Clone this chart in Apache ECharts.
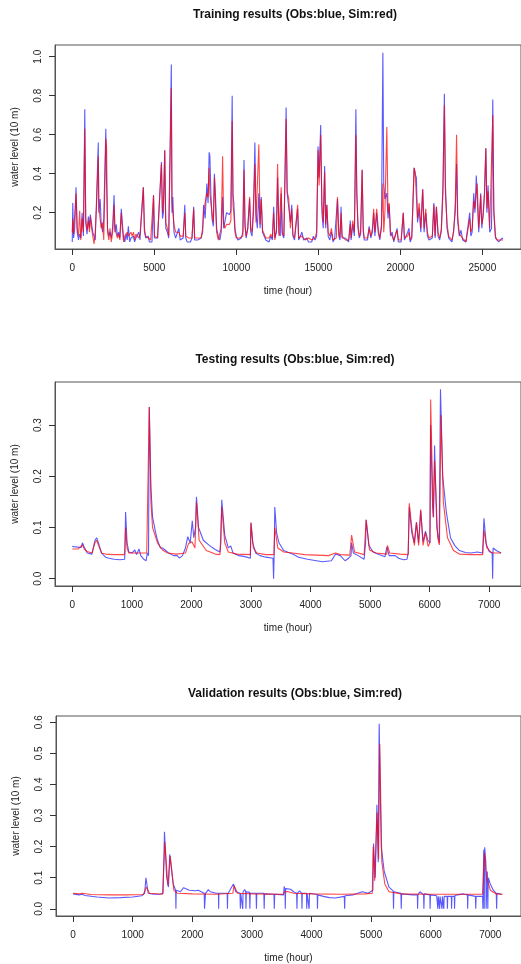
<!DOCTYPE html>
<html>
<head>
<meta charset="utf-8">
<script src="https://cdn.jsdelivr.net/npm/echarts@6/dist/echarts.min.js"></script>
<style>
  html, body { margin: 0; padding: 0; background: #fff; }
  #chart { width: 521px; height: 964px; }
</style>
</head>
<body>
<div id="chart"></div>
<script>
// ---- data: [hour, water level] ----
var trainObs = [[0,0.05],[30,0.25],[80,0.07],[150,0.12],[230,0.33],[300,0.1],[380,0.06],[450,0.09],[520,0.07],[600,0.2],[680,0.08],[762,0.73],[820,0.15],[900,0.09],[980,0.18],[1050,0.12],[1100,0.19],[1180,0.14],[1250,0.1],[1330,0.08],[1400,0.06],[1480,0.27],[1585,0.56],[1620,0.2],[1700,0.27],[1760,0.15],[1850,0.1],[1920,0.17],[2046,0.63],[2090,0.36],[2150,0.12],[2230,0.08],[2300,0.1],[2380,0.07],[2460,0.12],[2548,0.29],[2600,0.1],[2680,0.14],[2750,0.08],[2830,0.1],[2900,0.07],[2990,0.22],[3050,0.15],[3130,0.07],[3200,0.05],[3290,0.09],[3350,0.06],[3420,0.13],[3500,0.05],[3580,0.07],[3650,0.06],[3730,0.08],[3800,0.05],[3880,0.07],[3960,0.06],[4050,0.1],[4130,0.06],[4253,0.24],[4333,0.33],[4400,0.1],[4480,0.07],[4550,0.06],[4630,0.08],[4700,0.05],[4780,0.06],[4860,0.05],[4955,0.29],[5010,0.07],[5100,0.06],[5200,0.07],[5300,0.06],[5436,0.46],[5500,0.17],[5560,0.2],[5637,0.52],[5700,0.12],[5800,0.1],[5880,0.07],[5960,0.06],[6038,0.96],[6080,0.2],[6130,0.28],[6200,0.1],[6300,0.07],[6400,0.06],[6500,0.12],[6580,0.06],[6680,0.05],[6760,0.07],[6860,0.24],[6920,0.07],[7000,0.05],[7100,0.06],[7200,0.05],[7300,0.07],[7402,0.23],[7460,0.06],[7550,0.05],[7650,0.06],[7750,0.05],[7850,0.07],[7950,0.1],[8004,0.24],[8100,0.17],[8205,0.35],[8280,0.25],[8345,0.51],[8390,0.49],[8450,0.3],[8520,0.17],[8600,0.13],[8666,0.4],[8730,0.29],[8800,0.12],[8900,0.08],[9000,0.06],[9080,0.1],[9167,0.28],[9230,0.12],[9300,0.13],[9408,0.2],[9500,0.2],[9580,0.19],[9669,0.21],[9749,0.8],[9800,0.29],[9850,0.25],[9920,0.12],[10000,0.08],[10100,0.06],[10200,0.05],[10300,0.07],[10400,0.1],[10471,0.47],[10530,0.15],[10600,0.07],[10700,0.12],[10812,0.27],[10880,0.1],[10960,0.08],[11050,0.2],[11133,0.56],[11200,0.2],[11280,0.12],[11374,0.3],[11450,0.12],[11520,0.28],[11600,0.1],[11700,0.09],[11800,0.06],[11900,0.07],[12000,0.05],[12100,0.08],[12200,0.06],[12277,0.23],[12350,0.07],[12450,0.1],[12518,0.38],[12600,0.1],[12680,0.08],[12738,0.3],[12800,0.09],[12900,0.07],[13039,0.74],[13100,0.3],[13200,0.29],[13300,0.15],[13380,0.24],[13450,0.08],[13550,0.06],[13650,0.07],[13741,0.22],[13800,0.06],[13900,0.05],[14000,0.1],[14100,0.06],[14200,0.05],[14300,0.07],[14400,0.05],[14500,0.06],[14600,0.05],[14700,0.08],[14800,0.06],[14900,0.08],[14985,0.54],[15050,0.38],[15145,0.65],[15220,0.2],[15300,0.12],[15386,0.44],[15450,0.12],[15520,0.24],[15600,0.08],[15700,0.06],[15800,0.1],[15900,0.05],[16000,0.07],[16100,0.06],[16168,0.27],[16250,0.08],[16320,0.06],[16389,0.23],[16450,0.07],[16550,0.06],[16650,0.07],[16750,0.06],[16850,0.05],[16950,0.16],[17000,0.06],[17100,0.14],[17200,0.08],[17291,0.73],[17350,0.29],[17420,0.12],[17500,0.07],[17580,0.09],[17672,0.42],[17740,0.1],[17800,0.06],[17900,0.05],[18000,0.06],[18100,0.13],[18200,0.07],[18300,0.1],[18375,0.2],[18450,0.08],[18560,0.2],[18650,0.1],[18750,0.06],[18850,0.14],[18937,1.02],[18990,0.35],[19060,0.27],[19177,0.3],[19250,0.17],[19320,0.24],[19400,0.08],[19500,0.1],[19600,0.05],[19700,0.06],[19800,0.12],[19880,0.05],[19950,0.06],[20050,0.05],[20180,0.2],[20250,0.06],[20350,0.05],[20450,0.1],[20530,0.12],[20600,0.05],[20700,0.07],[20842,0.43],[20900,0.4],[20980,0.38],[21050,0.15],[21150,0.22],[21250,0.1],[21364,0.32],[21450,0.1],[21550,0.2],[21650,0.08],[21750,0.06],[21850,0.05],[21950,0.07],[22046,0.25],[22120,0.07],[22200,0.23],[22300,0.08],[22400,0.06],[22500,0.12],[22600,0.34],[22687,0.81],[22750,0.34],[22850,0.12],[22950,0.07],[23050,0.06],[23150,0.05],[23250,0.11],[23350,0.2],[23430,0.45],[23500,0.15],[23600,0.08],[23700,0.11],[23800,0.06],[23900,0.05],[24000,0.05],[24100,0.04],[24232,0.2],[24300,0.08],[24380,0.1],[24473,0.3],[24550,0.2],[24633,0.39],[24690,0.39],[24780,0.1],[24850,0.2],[24900,0.3],[24970,0.12],[25050,0.2],[25130,0.3],[25214,0.53],[25280,0.2],[25350,0.34],[25450,0.1],[25560,0.12],[25637,0.78],[25700,0.2],[25800,0.07],[25900,0.06],[26000,0.05],[26100,0.06],[26200,0.07],[26260,0.065]];

var trainSim = [[0,0.1],[30,0.17],[80,0.09],[150,0.1],[230,0.3],[300,0.12],[380,0.08],[450,0.21],[520,0.06],[600,0.17],[680,0.1],[762,0.63],[820,0.17],[900,0.11],[980,0.16],[1050,0.1],[1100,0.18],[1180,0.12],[1250,0.08],[1330,0.04],[1400,0.1],[1480,0.24],[1585,0.49],[1620,0.23],[1700,0.24],[1760,0.12],[1850,0.15],[1920,0.06],[2046,0.58],[2090,0.54],[2150,0.1],[2230,0.06],[2300,0.12],[2380,0.05],[2460,0.1],[2548,0.24],[2600,0.12],[2680,0.12],[2750,0.07],[2830,0.09],[2900,0.06],[2990,0.2],[3050,0.12],[3130,0.05],[3200,0.08],[3290,0.07],[3350,0.1],[3420,0.08],[3500,0.07],[3580,0.1],[3650,0.08],[3730,0.1],[3800,0.06],[3880,0.09],[3960,0.08],[4050,0.07],[4130,0.09],[4253,0.22],[4333,0.33],[4400,0.12],[4480,0.08],[4550,0.07],[4630,0.07],[4700,0.07],[4780,0.06],[4860,0.07],[4955,0.29],[5010,0.08],[5100,0.07],[5200,0.07],[5300,0.07],[5436,0.45],[5500,0.2],[5560,0.26],[5637,0.52],[5700,0.15],[5800,0.12],[5880,0.08],[5960,0.07],[6038,0.84],[6080,0.25],[6130,0.26],[6200,0.14],[6300,0.1],[6400,0.09],[6500,0.1],[6580,0.08],[6680,0.07],[6760,0.08],[6860,0.2],[6920,0.08],[7000,0.07],[7100,0.07],[7200,0.07],[7300,0.07],[7402,0.22],[7460,0.07],[7550,0.07],[7650,0.07],[7750,0.07],[7850,0.07],[7950,0.12],[8004,0.2],[8100,0.25],[8205,0.3],[8280,0.28],[8345,0.43],[8390,0.3],[8450,0.25],[8520,0.2],[8600,0.15],[8666,0.38],[8730,0.25],[8800,0.1],[8900,0.06],[9000,0.05],[9080,0.12],[9167,0.49],[9230,0.15],[9300,0.12],[9408,0.14],[9500,0.15],[9580,0.14],[9669,0.16],[9749,0.67],[9800,0.24],[9850,0.2],[9920,0.1],[10000,0.07],[10100,0.06],[10200,0.07],[10300,0.06],[10400,0.08],[10471,0.42],[10530,0.13],[10600,0.08],[10700,0.12],[10812,0.28],[10880,0.12],[10960,0.1],[11050,0.25],[11133,0.45],[11200,0.15],[11280,0.14],[11374,0.55],[11450,0.14],[11520,0.27],[11600,0.11],[11700,0.12],[11800,0.07],[11900,0.08],[12000,0.07],[12100,0.09],[12200,0.07],[12277,0.2],[12350,0.06],[12450,0.12],[12518,0.45],[12600,0.08],[12680,0.09],[12738,0.33],[12800,0.1],[12900,0.08],[13039,0.68],[13100,0.31],[13200,0.27],[13300,0.12],[13380,0.22],[13450,0.09],[13550,0.07],[13650,0.06],[13741,0.24],[13800,0.07],[13900,0.06],[14000,0.08],[14100,0.07],[14200,0.06],[14300,0.06],[14400,0.07],[14500,0.06],[14600,0.06],[14700,0.07],[14800,0.07],[14900,0.1],[14985,0.52],[15050,0.34],[15145,0.6],[15220,0.25],[15300,0.15],[15386,0.41],[15450,0.14],[15520,0.24],[15600,0.1],[15700,0.08],[15800,0.12],[15900,0.06],[16000,0.06],[16100,0.07],[16168,0.28],[16250,0.1],[16320,0.07],[16389,0.2],[16450,0.08],[16550,0.07],[16650,0.06],[16750,0.07],[16850,0.06],[16950,0.14],[17000,0.07],[17100,0.16],[17200,0.1],[17291,0.6],[17350,0.3],[17420,0.14],[17500,0.08],[17580,0.1],[17672,0.42],[17740,0.12],[17800,0.07],[17900,0.06],[18000,0.07],[18100,0.12],[18200,0.08],[18300,0.12],[18375,0.22],[18450,0.1],[18560,0.22],[18650,0.12],[18750,0.07],[18850,0.12],[18937,0.35],[18990,0.1],[19060,0.2],[19177,0.64],[19250,0.2],[19320,0.25],[19400,0.1],[19500,0.11],[19600,0.06],[19700,0.07],[19800,0.11],[19880,0.06],[19950,0.06],[20050,0.06],[20180,0.2],[20250,0.07],[20350,0.06],[20450,0.08],[20530,0.1],[20600,0.06],[20700,0.08],[20842,0.43],[20900,0.41],[20980,0.4],[21050,0.17],[21150,0.25],[21250,0.12],[21364,0.32],[21450,0.12],[21550,0.22],[21650,0.1],[21750,0.07],[21850,0.06],[21950,0.08],[22046,0.24],[22120,0.08],[22200,0.23],[22300,0.1],[22400,0.07],[22500,0.1],[22600,0.3],[22687,0.75],[22750,0.3],[22850,0.14],[22950,0.08],[23050,0.07],[23150,0.06],[23250,0.1],[23350,0.25],[23430,0.6],[23500,0.18],[23600,0.09],[23700,0.1],[23800,0.07],[23900,0.06],[24000,0.05],[24100,0.05],[24232,0.17],[24300,0.1],[24380,0.12],[24473,0.26],[24550,0.22],[24633,0.3],[24690,0.35],[24780,0.12],[24850,0.22],[24900,0.29],[24970,0.14],[25050,0.18],[25130,0.29],[25214,0.53],[25280,0.22],[25350,0.31],[25450,0.12],[25560,0.12],[25637,0.7],[25700,0.22],[25800,0.08],[25900,0.06],[26000,0.05],[26100,0.06],[26200,0.06],[26260,0.06]];

var testObs = [[0,0.063],[60,0.062],[150,0.061],[171,0.07],[200,0.062],[250,0.05],[330,0.048],[381,0.075],[409,0.08],[440,0.07],[492,0.05],[560,0.042],[620,0.04],[700,0.038],[800,0.037],[880,0.038],[885,0.06],[895,0.13],[920,0.07],[950,0.052],[1000,0.05],[1050,0.056],[1080,0.047],[1120,0.058],[1150,0.045],[1200,0.038],[1240,0.035],[1260,0.05],[1280,0.045],[1293,0.335],[1320,0.18],[1348,0.12],[1400,0.09],[1431,0.075],[1480,0.06],[1514,0.06],[1569,0.055],[1620,0.05],[1700,0.045],[1760,0.045],[1800,0.04],[1850,0.045],[1900,0.06],[1939,0.082],[1980,0.07],[2000,0.068],[2015,0.113],[2040,0.08],[2070,0.1],[2085,0.16],[2120,0.1],[2200,0.075],[2300,0.065],[2400,0.057],[2480,0.052],[2495,0.07],[2510,0.154],[2560,0.085],[2620,0.06],[2660,0.064],[2700,0.05],[2800,0.045],[2900,0.043],[2990,0.04],[3000,0.108],[3030,0.07],[3080,0.05],[3150,0.045],[3250,0.042],[3370,0.04],[3380,0.0],[3392,0.06],[3400,0.14],[3430,0.09],[3470,0.07],[3550,0.055],[3650,0.05],[3700,0.048],[3800,0.042],[3950,0.038],[4100,0.035],[4200,0.033],[4350,0.035],[4420,0.048],[4500,0.045],[4580,0.035],[4640,0.04],[4680,0.045],[4690,0.07],[4720,0.05],[4800,0.045],[4900,0.038],[4925,0.07],[4934,0.115],[4980,0.065],[5050,0.052],[5150,0.047],[5250,0.043],[5282,0.062],[5320,0.045],[5420,0.045],[5480,0.04],[5560,0.037],[5620,0.038],[5640,0.05],[5658,0.14],[5700,0.09],[5740,0.07],[5779,0.11],[5815,0.07],[5850,0.133],[5890,0.072],[5930,0.093],[5970,0.075],[6005,0.07],[6017,0.3],[6050,0.14],[6065,0.12],[6083,0.26],[6120,0.1],[6160,0.07],[6182,0.37],[6220,0.2],[6280,0.13],[6350,0.08],[6420,0.065],[6500,0.055],[6600,0.051],[6700,0.05],[6800,0.052],[6890,0.05],[6912,0.118],[6950,0.068],[7000,0.053],[7050,0.05],[7058,0.0],[7066,0.06],[7120,0.055],[7200,0.05]];

var testSim = [[0,0.058],[100,0.058],[171,0.066],[200,0.058],[250,0.053],[330,0.05],[381,0.07],[409,0.075],[440,0.065],[492,0.05],[560,0.048],[700,0.047],[880,0.047],[895,0.1],[920,0.06],[950,0.05],[1100,0.05],[1250,0.05],[1280,0.052],[1293,0.335],[1320,0.15],[1348,0.1],[1431,0.07],[1514,0.056],[1600,0.05],[1750,0.048],[1900,0.05],[1950,0.068],[2010,0.072],[2060,0.06],[2085,0.15],[2130,0.075],[2250,0.055],[2400,0.048],[2480,0.047],[2510,0.14],[2560,0.07],[2620,0.052],[2760,0.048],[2990,0.047],[3000,0.11],[3040,0.06],[3100,0.05],[3250,0.047],[3385,0.047],[3400,0.1],[3450,0.06],[3550,0.052],[3700,0.05],[3900,0.047],[4100,0.046],[4300,0.045],[4420,0.05],[4500,0.047],[4660,0.046],[4690,0.085],[4740,0.052],[4900,0.047],[4934,0.115],[4990,0.056],[5100,0.05],[5280,0.048],[5292,0.065],[5330,0.05],[5500,0.048],[5640,0.047],[5658,0.147],[5700,0.1],[5745,0.065],[5779,0.11],[5815,0.065],[5850,0.135],[5890,0.065],[5930,0.09],[5975,0.063],[6005,0.07],[6017,0.35],[6060,0.12],[6083,0.23],[6135,0.08],[6165,0.066],[6190,0.32],[6230,0.15],[6300,0.08],[6400,0.055],[6500,0.048],[6700,0.047],[6890,0.047],[6912,0.095],[6960,0.06],[7050,0.05],[7200,0.05]];

var validObs = [[0,0.048],[100,0.045],[130,0.04],[150,0.047],[200,0.043],[400,0.038],[600,0.035],[800,0.036],[1000,0.038],[1150,0.042],[1200,0.05],[1222,0.1],[1260,0.05],[1350,0.047],[1450,0.047],[1510,0.05],[1533,0.248],[1570,0.1],[1600,0.07],[1621,0.175],[1680,0.08],[1720,0.06],[1725,0.0],[1730,0.06],[1800,0.055],[1854,0.068],[1950,0.06],[2050,0.058],[2100,0.06],[2150,0.055],[2200,0.05],[2205,0.0],[2215,0.0],[2222,0.05],[2270,0.062],[2300,0.055],[2400,0.05],[2438,0.05],[2442,0.0],[2446,0.05],[2585,0.05],[2590,0.0],[2595,0.048],[2690,0.08],[2730,0.055],[2800,0.05],[2806,0.0],[2812,0.05],[2840,0.05],[2846,0.0],[2852,0.055],[2880,0.062],[2896,0.055],[2900,0.0],[2906,0.055],[2960,0.053],[2966,0.0],[2972,0.05],[3070,0.05],[3076,0.0],[3082,0.05],[3200,0.05],[3206,0.0],[3212,0.048],[3370,0.047],[3376,0.0],[3382,0.047],[3530,0.045],[3542,0.072],[3556,0.06],[3560,0.0],[3566,0.065],[3650,0.063],[3700,0.055],[3750,0.05],[3756,0.0],[3762,0.05],[3800,0.058],[3836,0.05],[3840,0.0],[3846,0.05],[3916,0.05],[3920,0.0],[3926,0.05],[3956,0.05],[3960,0.0],[3966,0.05],[4096,0.046],[4100,0.0],[4106,0.045],[4200,0.04],[4300,0.036],[4400,0.035],[4550,0.04],[4556,0.0],[4562,0.042],[4700,0.045],[4850,0.055],[4950,0.05],[5030,0.06],[5041,0.21],[5070,0.1],[5097,0.335],[5120,0.15],[5135,0.595],[5170,0.2],[5220,0.12],[5300,0.07],[5370,0.058],[5376,0.0],[5382,0.055],[5500,0.05],[5506,0.0],[5512,0.048],[5700,0.045],[5776,0.045],[5780,0.0],[5786,0.045],[5820,0.055],[5880,0.045],[5886,0.0],[5892,0.048],[5986,0.045],[5990,0.0],[5996,0.045],[6100,0.042],[6116,0.04],[6120,0.0],[6126,0.04],[6146,0.04],[6150,0.0],[6156,0.04],[6186,0.04],[6190,0.0],[6196,0.04],[6216,0.04],[6220,0.0],[6226,0.04],[6276,0.04],[6280,0.0],[6286,0.04],[6346,0.04],[6350,0.0],[6356,0.04],[6396,0.04],[6400,0.0],[6406,0.042],[6450,0.045],[6550,0.048],[6616,0.045],[6620,0.0],[6626,0.045],[6750,0.04],[6756,0.0],[6762,0.04],[6870,0.04],[6876,0.0],[6890,0.19],[6898,0.0],[6906,0.198],[6925,0.15],[6930,0.0],[6950,0.12],[6958,0.0],[6966,0.1],[7000,0.08],[7050,0.06],[7100,0.05],[7106,0.0],[7112,0.05],[7200,0.047]];

var validSim = [[0,0.05],[100,0.048],[150,0.05],[300,0.046],[600,0.045],[900,0.045],[1180,0.046],[1230,0.07],[1280,0.05],[1500,0.047],[1540,0.215],[1590,0.075],[1605,0.07],[1630,0.17],[1690,0.06],[1750,0.05],[2000,0.048],[2400,0.047],[2680,0.05],[2700,0.075],[2760,0.05],[3000,0.048],[3535,0.047],[3545,0.055],[3600,0.056],[3700,0.05],[4000,0.048],[4500,0.047],[4900,0.048],[5020,0.05],[5035,0.2],[5060,0.09],[5100,0.31],[5125,0.16],[5145,0.53],[5180,0.15],[5230,0.08],[5300,0.055],[5500,0.048],[6000,0.047],[6500,0.047],[6870,0.047],[6900,0.18],[6940,0.1],[7000,0.06],[7100,0.048],[7200,0.046]];

// tick labels
var trainXTicks = [0, 5000, 10000, 15000, 20000, 25000];
var trainYTicks = [0.2, 0.4, 0.6, 0.8, 1.0];
var testXTicks = [0, 1000, 2000, 3000, 4000, 5000, 6000, 7000];
var testYTicks = [0.0, 0.1, 0.2, 0.3];
var validXTicks = [0, 1000, 2000, 3000, 4000, 5000, 6000, 7000];
var validYTicks = [0.0, 0.1, 0.2, 0.3, 0.4, 0.5, 0.6];

var titles = ['Training results (Obs:blue, Sim:red)', 'Testing results (Obs:blue, Sim:red)', 'Validation results (Obs:blue, Sim:red)'];

var font = 'Liberation Sans, Arial, sans-serif';
var boxColor = '#555';

// panel layout (pixels) and axis ranges, R style 4% padding
var panels = [
  { obs: trainObs, sim: trainSim, xt: trainXTicks, yt: trainYTicks, left: 55, top: 45, xMin: -1053, xMax: 27358, yMin: 0.0138, yMax: 1.06, titleTop: 4 },
  { obs: testObs, sim: testSim, xt: testXTicks, yt: testYTicks, left: 55, top: 382, xMin: -290, xMax: 7534, yMin: -0.0143, yMax: 0.384, titleTop: 349 },
  { obs: validObs, sim: validSim, xt: validXTicks, yt: validYTicks, left: 56, top: 716, xMin: -287, xMax: 7515, yMin: -0.023, yMax: 0.62, titleTop: 683 }
];

var option = { animation: false, title: [], grid: [], xAxis: [], yAxis: [], series: [] };

panels.forEach(function (p, i) {
  option.title.push({
    text: titles[i],
    left: 290,
    top: p.titleTop,
    textAlign: 'center',
    textStyle: { fontFamily: font, fontSize: 12, fontWeight: 'bold', color: '#111' }
  });
  option.grid.push({
    show: true, left: p.left, top: p.top, width: 472, height: 204,
    borderColor: boxColor, borderWidth: 1, backgroundColor: 'transparent'
  });
  option.xAxis.push({
    gridIndex: i, type: 'value', min: p.xMin, max: p.xMax,
    axisLine: { show: true, onZero: false, lineStyle: { color: boxColor, width: 1 } },
    splitLine: { show: false },
    axisTick: { show: true, inside: false, customValues: p.xt, length: 6, lineStyle: { color: '#333', width: 1 } },
    axisLabel: {
      customValues: p.xt, margin: 14, fontSize: 10, fontFamily: font, color: '#222',
      formatter: function (v) { return String(v); }
    },
    name: 'time (hour)', nameLocation: 'middle', nameGap: 37,
    nameTextStyle: { fontSize: 10, fontFamily: font, color: '#222' }
  });
  option.yAxis.push({
    gridIndex: i, type: 'value', min: p.yMin, max: p.yMax,
    axisLine: { show: true, onZero: false, lineStyle: { color: boxColor, width: 1 } },
    splitLine: { show: false },
    axisTick: { show: true, inside: false, customValues: p.yt, length: 6, lineStyle: { color: '#333', width: 1 } },
    axisLabel: {
      customValues: p.yt, margin: 12, rotate: 90, fontSize: 10, fontFamily: font, color: '#222',
      formatter: function (v) { return v.toFixed(1); }
    },
    name: 'water level (10 m)', nameLocation: 'middle', nameGap: 35,
    nameTextStyle: { fontSize: 10, fontFamily: font, color: '#222' }
  });
  // observed first (blue), simulated drawn over it (red)
  option.series.push({
    type: 'line', xAxisIndex: i, yAxisIndex: i, data: p.obs,
    showSymbol: false, symbol: 'none', silent: true,
    lineStyle: { width: 1.1, color: 'rgba(0,0,255,0.65)' }
  });
  option.series.push({
    type: 'line', xAxisIndex: i, yAxisIndex: i, data: p.sim,
    showSymbol: false, symbol: 'none', silent: true,
    lineStyle: { width: 1.1, color: 'rgba(255,0,0,0.72)' }
  });
});

var myChart = echarts.init(document.getElementById('chart'));
myChart.setOption(option);
</script>
</body>
</html>
